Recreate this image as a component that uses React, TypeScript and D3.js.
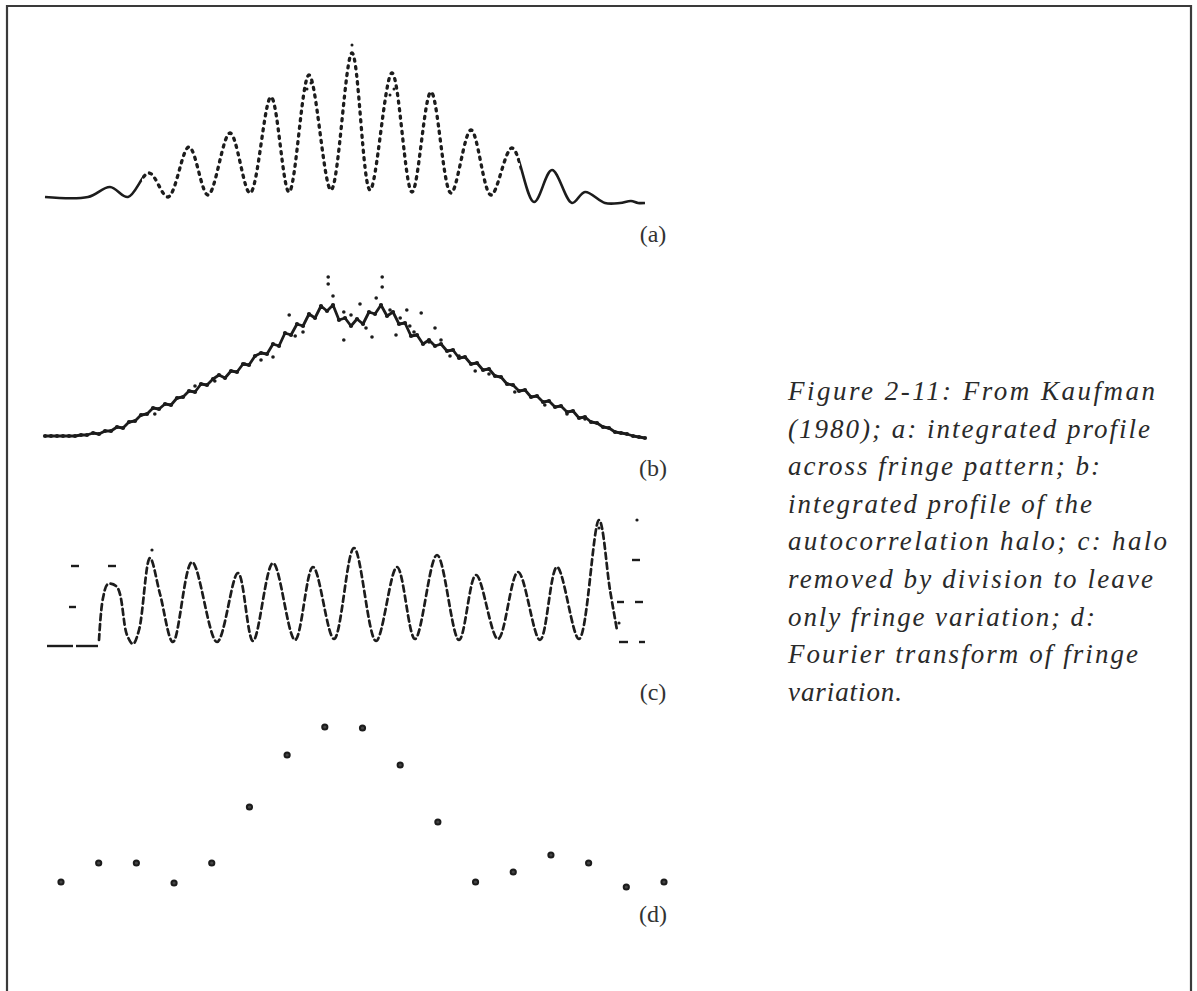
import React from 'react';
import * as d3 from 'd3';

const W = 1197;
const H = 991;

// (a) integrated profile across fringe pattern: knot positions (0..600) and intensities
const fringePos = [0, 43, 65, 83, 104, 123, 144, 163, 185, 205, 226, 244, 264, 286, 307, 325, 347, 367, 386, 406, 426, 446, 467, 489, 507, 527, 540, 560, 575, 586, 593, 600];
const fringeVal = [2, 2, 12, 2, 26, 2, 52, 4, 66, 6, 102, 7, 124, 9, 146, 9, 126, 7, 107, 6, 69, 4, 51, -3, 29, -4, 7, -4, -4, -2, -4, -4];
const fringeStrayPos = [307, 262, 266, 345, 349];
const fringeStrayVal = [154, 110, 116, 104, 110];

// (b) integrated profile of the autocorrelation halo: 101 samples
const haloVal = [
  0, 0, 0, 0, 0, 0, 1, 1, 3, 2, 5, 5, 9, 8, 14, 15, 21, 22, 28, 27,
  32, 31, 38, 39, 45, 44, 52, 51, 57, 61, 58, 65, 64, 72, 71, 80, 83, 82, 92, 90,
  103, 101, 112, 110, 122, 118, 130, 125, 131, 116, 118, 110, 117, 112, 124, 122, 131, 120, 124, 112,
  113, 100, 101, 92, 96, 90, 92, 85, 86, 78, 79, 72, 73, 66, 67, 60, 59, 52, 51, 45,
  46, 39, 40, 34, 35, 29, 30, 24, 25, 18, 19, 14, 13, 9, 8, 4, 3, 2, 0, -1, -2,
];
const haloStrayIdx = [47.2, 47.2, 48, 56.2, 56.2, 55.2, 40.7, 44, 49.8, 49.8, 54.5, 58.5, 60.3, 62.7, 65, 66, 38, 33.3, 25, 67.5, 71.7, 78.3, 83.3, 90, 18.3, 28.3, 41.7, 52.5, 59.2, 60.8, 36, 43, 51, 53.5, 57.5, 61.5, 64, 69, 74, 87];
const haloStrayVal = [159, 152, 140, 159, 149, 138, 121, 121, 124, 96, 99, 101, 126, 123, 108, 96, 79, 72, 50, 80, 65, 44, 31, 17, 22, 55, 100, 132, 118, 110, 76, 104, 121, 108, 126, 104, 94, 80, 62, 22];

// (c) halo removed by division: knots
const divPos = [54, 58, 63, 72, 82, 88, 94, 105, 115, 128, 147, 172, 193, 208, 228, 250, 268, 289, 309, 331, 352, 370, 392, 414, 431, 453, 473, 495, 512, 534, 554, 565, 572];
const divVal = [6, 48, 62, 59, 11, 2, 16, 88, 52, 4, 84, 4, 73, 5, 83, 6, 79, 7, 98, 5, 79, 7, 91, 6, 71, 7, 74, 6, 79, 7, 126, 56, 16];
const divSegStart = [2, 31, 26, 24, 63, 587, 572, 590, 574, 594];
const divSegEnd = [28, 53, 34, 31, 71, 595, 579, 598, 583, 600];
const divSegVal = [0, 0, 80, 39, 80, 86, 44, 44, 4, 4];
const divDotPos = [592, 574, 107, 554];
const divDotVal = [126, 23, 96, 118];

// (d) Fourier transform of fringe variation
const ftVal = [18, 37, 37, 17, 37, 93, 145, 173, 172, 135, 78, 18, 28, 45, 37, 13, 18];

const caption = [
  'Figure 2-11: From Kaufman',
  '(1980); a: integrated profile',
  'across fringe pattern; b:',
  'integrated profile of the',
  'autocorrelation halo; c: halo',
  'removed by division to leave',
  'only fringe variation; d:',
  'Fourier transform of fringe',
  'variation.',
];
const captionWidths = [367, 362, 312, 304, 379, 365, 307, 350, 114];
const panelLabels = ['(a)', '(b)', '(c)', '(d)'];

export default function App() {
  const ink = '#1c1c1c';

  // (a)
  const xA = d3.scaleLinear().domain([0, 600]).range([45, 645]);
  const yA = d3.scaleLinear().domain([0, 156]).range([199, 43]);
  const lineA = d3
    .line<number>()
    .x((_, i) => xA(fringePos[i]))
    .y((d) => yA(d))
    .curve(d3.curveCatmullRom.alpha(0.5));
  const dA = lineA(fringeVal) || '';

  // (b)
  const xB = d3.scaleLinear().domain([0, 100]).range([45, 645]);
  const yB = d3.scaleLinear().domain([0, 160]).range([436, 276]);
  const lineB = d3
    .line<number>()
    .x((_, i) => xB(i))
    .y((d) => yB(d));
  const dB = lineB(haloVal) || '';

  // (c)
  const xC = d3.scaleLinear().domain([0, 600]).range([45, 645]);
  const yC = d3.scaleLinear().domain([0, 130]).range([646, 516]);
  const lineC = d3
    .line<number>()
    .x((_, i) => xC(divPos[i]))
    .y((d) => yC(d))
    .curve(d3.curveCatmullRom.alpha(0.5));
  const dC = lineC(divVal) || '';

  // (d)
  const xD = d3.scaleLinear().domain([0, 16]).range([61, 664]);
  const yD = d3.scaleLinear().domain([0, 160]).range([900, 740]);

  const labelY = [242, 476, 700, 922];
  const capY0 = 400;
  const capDy = 37.6;

  return (
    <svg
      width={W}
      height={H}
      viewBox={`0 0 ${W} ${H}`}
      style={{ position: 'absolute', left: 0, top: 0, background: '#fff' }}
    >
      <defs>
        <clipPath id="aSolid">
          <rect x={0} y={0} width={xA(97)} height={260} />
          <rect x={xA(475)} y={0} width={W} height={260} />
        </clipPath>
        <clipPath id="aDot">
          <rect x={xA(97)} y={0} width={xA(475) - xA(97)} height={260} />
        </clipPath>
      </defs>

      {/* frame */}
      <path d={`M7,${H} L7,6 L1191,6 L1191,${H}`} fill="none" stroke="#3a3a3a" strokeWidth={2.2} />

      {/* (a) */}
      <path d={dA} fill="none" stroke={ink} strokeWidth={2.6} clipPath="url(#aSolid)" />
      <path
        d={dA}
        fill="none"
        stroke={ink}
        strokeWidth={3.3}
        strokeDasharray="2.2 5.4"
        strokeLinecap="round"
        clipPath="url(#aDot)"
      />
      {fringeStrayPos.map((p, i) => (
        <circle key={`as${i}`} cx={xA(p)} cy={yA(fringeStrayVal[i])} r={1.5} fill={ink} />
      ))}

      {/* (b) */}
      <path d={dB} fill="none" stroke={ink} strokeWidth={2.8} strokeLinejoin="round" />
      {haloVal.map((v, i) => (
        <circle key={`b${i}`} cx={xB(i)} cy={yB(v)} r={2.1} fill={ink} />
      ))}
      {haloStrayIdx.map((p, i) => (
        <circle key={`bs${i}`} cx={xB(p)} cy={yB(haloStrayVal[i])} r={1.8} fill={ink} />
      ))}

      {/* (c) */}
      <path
        d={dC}
        fill="none"
        stroke={ink}
        strokeWidth={2.7}
        strokeDasharray="6 4"
        strokeLinecap="round"
      />
      {divSegStart.map((s, i) => (
        <line
          key={`cs${i}`}
          x1={xC(s)}
          x2={xC(divSegEnd[i])}
          y1={yC(divSegVal[i])}
          y2={yC(divSegVal[i])}
          stroke={ink}
          strokeWidth={2.4}
        />
      ))}
      {divDotPos.map((p, i) => (
        <circle key={`cd${i}`} cx={xC(p)} cy={yC(divDotVal[i])} r={1.6} fill={ink} />
      ))}

      {/* (d) */}
      {ftVal.map((v, i) => (
        <circle key={`d${i}`} cx={xD(i)} cy={yD(v)} r={2.6} fill="#444" stroke={ink} strokeWidth={2} />
      ))}

      {/* panel labels */}
      {panelLabels.map((t, i) => (
        <text
          key={t}
          x={653}
          y={labelY[i]}
          textAnchor="middle"
          fontFamily="'Liberation Serif', 'Times New Roman', serif"
          fontSize={24}
          fill="#333"
        >
          {t}
        </text>
      ))}

      {/* caption */}
      {caption.map((t, i) => (
        <text
          key={`cap${i}`}
          x={788}
          y={capY0 + i * capDy}
          fontFamily="'Liberation Serif', 'Times New Roman', serif"
          fontStyle="italic"
          fontSize={27}
          fill="#2a2a2a"
          textLength={captionWidths[i]}
          lengthAdjust="spacing"
        >
          {t}
        </text>
      ))}
    </svg>
  );
}
